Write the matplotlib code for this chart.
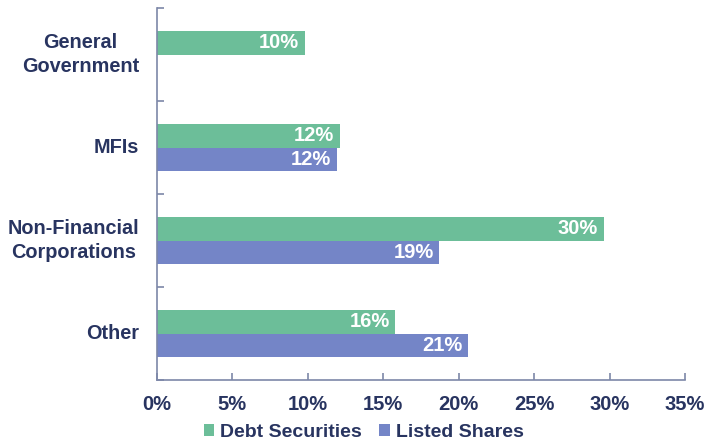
import numpy as np
import matplotlib.pyplot as plt

# sector holdings, share of total (%)
sectors = ["General\nGovernment", "MFIs", "Non-Financial\nCorporations", "Other"]
debt_securities = [9.8, 12.1, 29.6, 15.8]
listed_shares = [np.nan, 11.9, 18.7, 20.6]
x_ticks = [0, 5, 10, 15, 20, 25, 30, 35]

green = "#6cbe99"
blue = "#7485c7"
navy = "#283460"
axis_col = "#7d87a8"

plt.rcParams['font.family'] = ['Liberation Sans', 'DejaVu Sans']
plt.rcParams['font.weight'] = 'bold'

fig = plt.figure(figsize=(7.05, 4.43), dpi=100)
ax = fig.add_axes([0.2227, 0.1422, 0.7489, 0.8397])

y = np.arange(len(sectors))
h = 0.25
b1 = ax.barh(y - h / 2, debt_securities, height=h, color=green, label="Debt Securities")
b2 = ax.barh(y + h / 2, listed_shares, height=h, color=blue, label="Listed Shares")

# value labels inside the bar ends
for bars, vals in ((b1, debt_securities), (b2, listed_shares)):
    for bar, v in zip(bars, vals):
        if np.isnan(v):
            continue
        ax.annotate(f"{v:.0f}%", (v, bar.get_y() + bar.get_height() / 2),
                    xytext=(-4, 0), textcoords="offset points",
                    ha="right", va="center", color="white",
                    fontsize=14.5, fontweight="bold")

ax.set_xlim(0, 35)
ax.set_ylim(len(sectors) - 0.5, -0.5)
ax.set_xticks(x_ticks)
ax.set_xticklabels([f"{t}%" for t in x_ticks])
ax.set_yticks(y)
ax.set_yticklabels(sectors, multialignment="center", linespacing=1.35)
for lbl in ax.get_yticklabels():
    lbl.set_verticalalignment("center")
ax.set_yticks(np.arange(-0.5, len(sectors), 1), minor=True)

for s in ("top", "right"):
    ax.spines[s].set_visible(False)
for s in ("left", "bottom"):
    ax.spines[s].set_color(axis_col)
    ax.spines[s].set_linewidth(1.2)

ax.tick_params(axis="x", direction="in", length=5, color=axis_col, width=1.2,
               labelsize=14.5, labelcolor=navy, pad=11)
ax.tick_params(axis="y", which="major", length=0, labelsize=14.3, labelcolor=navy, pad=13)
ax.tick_params(axis="y", which="minor", direction="in", length=5, color=axis_col, width=1.2)

fig.legend(handles=[b1, b2], loc="center", bbox_to_anchor=(0.516, 0.024), ncol=2,
           frameon=False, fontsize=14, labelcolor=navy, handlelength=0.55,
           handleheight=0.55, handletextpad=0.3, columnspacing=0.9, borderpad=0.1)

fig.savefig("out.png", dpi=100)
